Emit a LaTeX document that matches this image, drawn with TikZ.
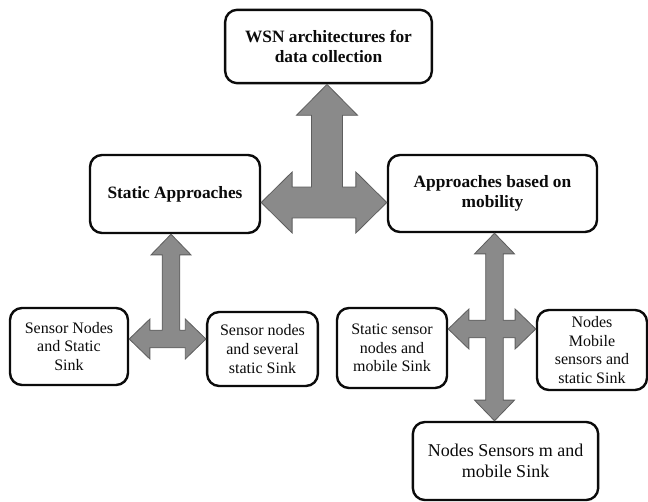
\documentclass[tikz,border=0pt]{standalone}
\usepackage{fontspec}
\setmainfont{Liberation Serif}
\usepackage{tikz}
\usetikzlibrary{calc}
\definecolor{tinta}{HTML}{0B0B0B}
\definecolor{flechagris}{HTML}{8A8A8A}
\definecolor{flechaborde}{HTML}{5E5E5E}
% medidas de las flechas de bloque
\def\ejeA{11.6pt}\def\puntaA{22.9pt}\def\largoA{23.2pt}
\def\ejeB{6.6pt}\def\puntaB{15pt}\def\largoB{15.5pt}
\tikzset{
  caja/.style={draw=tinta,line width=1.8pt,rounded corners=9pt,fill=white,align=center,inner sep=2pt,text=tinta},
  cajatit/.style={caja,font=\fontsize{13}{15}\selectfont\bfseries},
  cajahoja/.style={caja,font=\fontsize{12}{14}\selectfont},
  flecha/.style={fill=flechagris,draw=flechaborde,line width=0.6pt,line join=miter},
}
\begin{document}
\begin{tikzpicture}[x=0.75pt,y=-0.75pt]
  \useasboundingbox (0,0) rectangle (648,502);
  % cajas
  \node[cajatit,minimum width=155pt,minimum height=55pt] (arq) at (328.5,46.5) {WSN architectures for\\data collection};
  \node[cajatit,minimum width=127.5pt,minimum height=58.5pt] (estat) at (175,194) {Static Approaches};
  \node[cajatit,minimum width=156.75pt,minimum height=57.75pt] (movil) at (492.5,193.5) {Approaches based on\\mobility};
  \node[cajahoja,minimum width=88.5pt,minimum height=57.75pt] (snss) at (69,346.5) {Sensor Nodes\\and Static\\Sink};
  \node[cajahoja,minimum width=83pt,minimum height=55.5pt] (snvs) at (262.5,349) {Sensor nodes\\and several\\static Sink};
  \node[cajahoja,minimum width=82.5pt,minimum height=60pt] (ssms) at (392,348) {Static sensor\\nodes and\\mobile Sink};
  \node[cajahoja,minimum width=82.5pt,minimum height=60pt] (nmss) at (592,350) {Nodes\\Mobile\\sensors and\\static Sink};
  \node[caja,font=\fontsize{13.5}{16}\selectfont,minimum width=139pt,minimum height=58.5pt] (nsms) at (505.5,461) {Nodes Sensors m and\\mobile Sink};
  % centros de las flechas
  \coordinate (centroA) at (327,202.5);
  \coordinate (centroB) at (171,339);
  \coordinate (centroC) at (494.5,329);
  % flecha en T superior
  \draw[flecha] let \p5=(centroA), \p1=(centroA |- arq.south), \p2=(estat.east |- centroA), \p3=(movil.west |- centroA) in
    (\x1,\y1) -- (\x1+\puntaA,\y1-\largoA) -- (\x1+\ejeA,\y1-\largoA) -- (\x1+\ejeA,\y5+\ejeA)
    -- (\x3-\largoA,\y5+\ejeA) -- (\x3-\largoA,\y5+\puntaA) -- (\x3,\y5) -- (\x3-\largoA,\y5-\puntaA) -- (\x3-\largoA,\y5-\ejeA)
    -- (\x2+\largoA,\y5-\ejeA) -- (\x2+\largoA,\y5-\puntaA) -- (\x2,\y5) -- (\x2+\largoA,\y5+\puntaA) -- (\x2+\largoA,\y5+\ejeA)
    -- (\x1-\ejeA,\y5+\ejeA) -- (\x1-\ejeA,\y1-\largoA) -- (\x1-\puntaA,\y1-\largoA) -- cycle;
  % flecha en T izquierda
  \draw[flecha] let \p5=(centroB), \p1=(centroB |- estat.south), \p2=(snss.east |- centroB), \p3=(snvs.west |- centroB) in
    (\x1,\y1) -- (\x1+\puntaB,\y1-\largoB) -- (\x1+\ejeB,\y1-\largoB) -- (\x1+\ejeB,\y5+\ejeB)
    -- (\x3-\largoB,\y5+\ejeB) -- (\x3-\largoB,\y5+\puntaB) -- (\x3,\y5) -- (\x3-\largoB,\y5-\puntaB) -- (\x3-\largoB,\y5-\ejeB)
    -- (\x2+\largoB,\y5-\ejeB) -- (\x2+\largoB,\y5-\puntaB) -- (\x2,\y5) -- (\x2+\largoB,\y5+\puntaB) -- (\x2+\largoB,\y5+\ejeB)
    -- (\x1-\ejeB,\y5+\ejeB) -- (\x1-\ejeB,\y1-\largoB) -- (\x1-\puntaB,\y1-\largoB) -- cycle;
  % flecha en cruz derecha
  \draw[flecha] let \p5=(centroC), \p1=(centroC |- movil.south), \p2=(ssms.east |- centroC), \p3=(nmss.west |- centroC), \p4=(centroC |- nsms.north) in
    (\x1,\y1) -- (\x1+\puntaB,\y1-\largoB) -- (\x1+\ejeB,\y1-\largoB) -- (\x1+\ejeB,\y5+\ejeB)
    -- (\x3-\largoB,\y5+\ejeB) -- (\x3-\largoB,\y5+\puntaB) -- (\x3,\y5) -- (\x3-\largoB,\y5-\puntaB) -- (\x3-\largoB,\y5-\ejeB)
    -- (\x1+\ejeB,\y5-\ejeB) -- (\x1+\ejeB,\y4+\largoB) -- (\x1+\puntaB,\y4+\largoB) -- (\x1,\y4) -- (\x1-\puntaB,\y4+\largoB) -- (\x1-\ejeB,\y4+\largoB)
    -- (\x1-\ejeB,\y5-\ejeB) -- (\x2+\largoB,\y5-\ejeB) -- (\x2+\largoB,\y5-\puntaB) -- (\x2,\y5) -- (\x2+\largoB,\y5+\puntaB) -- (\x2+\largoB,\y5+\ejeB)
    -- (\x1-\ejeB,\y5+\ejeB) -- (\x1-\ejeB,\y1-\largoB) -- (\x1-\puntaB,\y1-\largoB) -- cycle;
\end{tikzpicture}
\end{document}
